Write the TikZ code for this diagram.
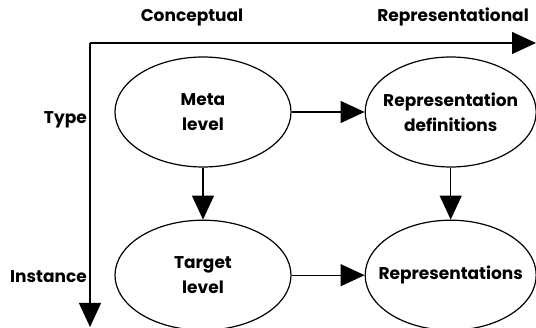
\documentclass[tikz,border=0pt]{standalone}
\usepackage{fontspec}
\setmainfont{Poppins}
\usetikzlibrary{arrows.meta,positioning,shapes.geometric}

\begin{document}
\begin{tikzpicture}[x=1pt,y=1pt,node distance=52pt and 73pt,
 every node/.style={font=\bfseries\fontsize{17}{25}\selectfont},
 level/.style={draw,ellipse,line width=1.2pt,inner sep=-12pt,minimum height=110pt,align=center},
 arr/.style={-{Triangle[length=24pt,width=22pt]},line width=1.2pt},
 axislabel/.style={inner sep=1pt}]
\useasboundingbox (0,0) rectangle (536,328);
% axes
\coordinate (origin) at (90,285);
\coordinate (xend) at (536,285);
\coordinate (yend) at (90,1);
\draw[arr] (origin)--(xend);
\draw[arr] (origin)--(yend);
\node[axislabel] (concept) at (192,311) {Conceptual};
\node[axislabel,anchor=east] (repres) at (530,311) {Representational};
\node[axislabel,anchor=east] (type) at (88,208) {Type};
\node[axislabel,anchor=east] (inst) at (88,51) {Instance};
% levels
\node[level,minimum width=176pt] (meta) at (203,216) {Meta\\level};
\node[level,minimum width=171pt,right=of meta] (repdef) {Representation\\definitions};
\node[level,minimum width=176pt,below=of meta] (target) {Target\\level};
\node[level,minimum width=171pt,below=of repdef] (reps) {Representations};
\draw[arr] (meta)--(repdef); \draw[arr] (target)--(reps);
\draw[arr] (meta)--(target); \draw[arr] (repdef)--(reps);
\end{tikzpicture}
\end{document}
